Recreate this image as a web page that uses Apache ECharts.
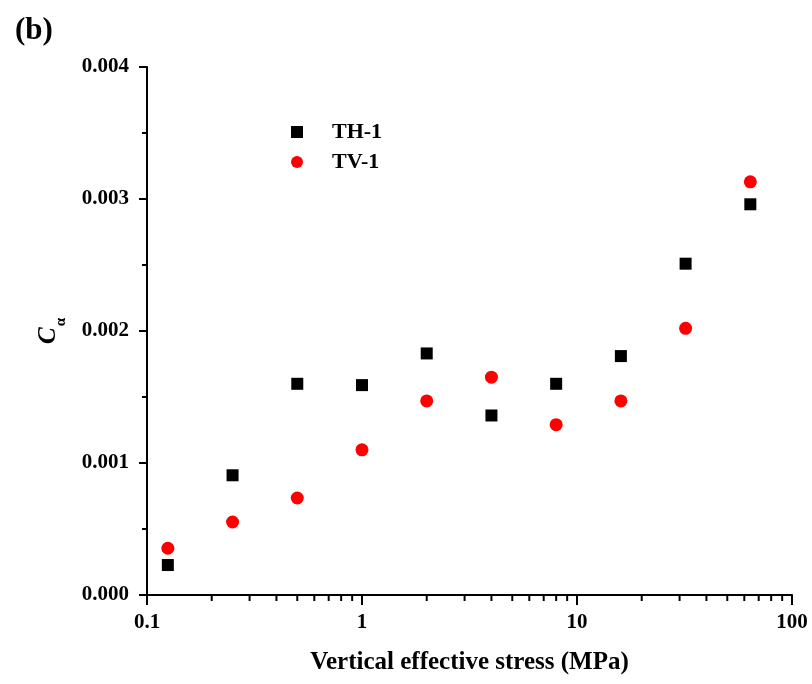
<!DOCTYPE html>
<html>
<head>
<meta charset="utf-8">
<script src="https://cdn.jsdelivr.net/npm/echarts@6/dist/echarts.min.js"></script>
<style>html,body{margin:0;padding:0;background:#fff;}#c{width:812px;height:684px;}</style>
</head>
<body>
<div id="c"></div>
<script>
var stress = [0.125, 0.25, 0.5, 1, 2, 4, 8, 16, 32, 64];
var th1 = [0.000227, 0.000907, 0.00160, 0.00159, 0.00183, 0.00136, 0.00160, 0.00181, 0.00251, 0.00296];
var tv1 = [0.000354, 0.000553, 0.000735, 0.00110, 0.00147, 0.00165, 0.00129, 0.00147, 0.00202, 0.00313];
var xMinorTicks = [0.2,0.3,0.4,0.5,0.6,0.7,0.8,0.9,2,3,4,5,6,7,8,9,20,30,40,50,60,70,80,90];
var font = '"Liberation Serif", "Times New Roman", serif';

function pairs(xs, ys){ return xs.map(function(x,i){ return [x, ys[i]]; }); }

var chart = echarts.init(document.getElementById('c'));
chart.setOption({
  backgroundColor: '#fff',
  animation: false,
  title: { text: '(b)', left: 10, top: 10, textStyle: { fontFamily: font, fontWeight: 'bold', fontSize: 31, color: '#000' } },
  legend: {
    orient: 'vertical', left: 286, top: 116, itemWidth: 12, itemHeight: 12, itemGap: 8,
    data: ['TH-1', 'TV-1'],
    textStyle: { fontFamily: font, fontWeight: 'bold', fontSize: 22, color: '#000', padding: [0, 0, 0, 24] }
  },
  grid: { left: 147, right: 20, top: 67, bottom: 89, containLabel: false },
  xAxis: {
    type: 'log', logBase: 10, min: 0.1, max: 100,
    name: 'Vertical effective stress (MPa)', nameLocation: 'middle', nameGap: 55,
    nameTextStyle: { fontFamily: font, fontWeight: 'bold', fontSize: 25, color: '#000' },
    axisLine: { show: true, onZero: false, lineStyle: { color: '#000', width: 2 } },
    axisTick: { show: true, inside: false, length: 10, lineStyle: { color: '#000', width: 2 } },
    minorTick: { show: false },
    axisLabel: { margin: 17, fontFamily: font, fontWeight: 'bold', fontSize: 21, color: '#000' },
    splitLine: { show: false }
  },
  yAxis: {
    type: 'value', min: 0, max: 0.004, interval: 0.001,
    name: '{c|C}{a|α}', nameLocation: 'middle', nameGap: 78, nameRotate: 90,
    nameTextStyle: {
      rich: {
        c: { fontFamily: font, fontStyle: 'italic', fontWeight: 'bold', fontSize: 25, color: '#000', verticalAlign: 'top', padding: [0, 0, 8, 0] },
        a: { fontFamily: font, fontWeight: 'bold', fontSize: 15, color: '#000', verticalAlign: 'bottom', padding: [0, 0, 0, 1] }
      }
    },
    axisLine: { show: true, onZero: false, lineStyle: { color: '#000', width: 2 } },
    axisTick: { show: true, inside: false, length: 8, lineStyle: { color: '#000', width: 2 } },
    minorTick: { show: true, splitNumber: 2, length: 5, lineStyle: { color: '#000', width: 2 } },
    axisLabel: { margin: 18, fontFamily: font, fontWeight: 'bold', fontSize: 21, color: '#000',
      formatter: function(v){ return v.toFixed(3); } },
    splitLine: { show: false }
  },
  series: [
    { name: 'TH-1', type: 'scatter', symbol: 'rect', symbolSize: 12, itemStyle: { color: '#000', opacity: 1 }, data: pairs(stress, th1), z: 3 },
    { name: 'TV-1', type: 'scatter', symbol: 'circle', symbolSize: 13, itemStyle: { color: '#ff0000', opacity: 1 }, data: pairs(stress, tv1), z: 4 },
    { name: 'minorTicks', type: 'custom', silent: true, clip: false, z: 5,
      data: xMinorTicks.map(function(v){ return [v, 0]; }),
      renderItem: function(params, api){
        var p = api.coord([api.value(0), 0]);
        return { type: 'line', shape: { x1: p[0], y1: p[1], x2: p[0], y2: p[1] + 6 }, style: { stroke: '#000', lineWidth: 2 } };
      }
    }
  ]
});
</script>
</body>
</html>
